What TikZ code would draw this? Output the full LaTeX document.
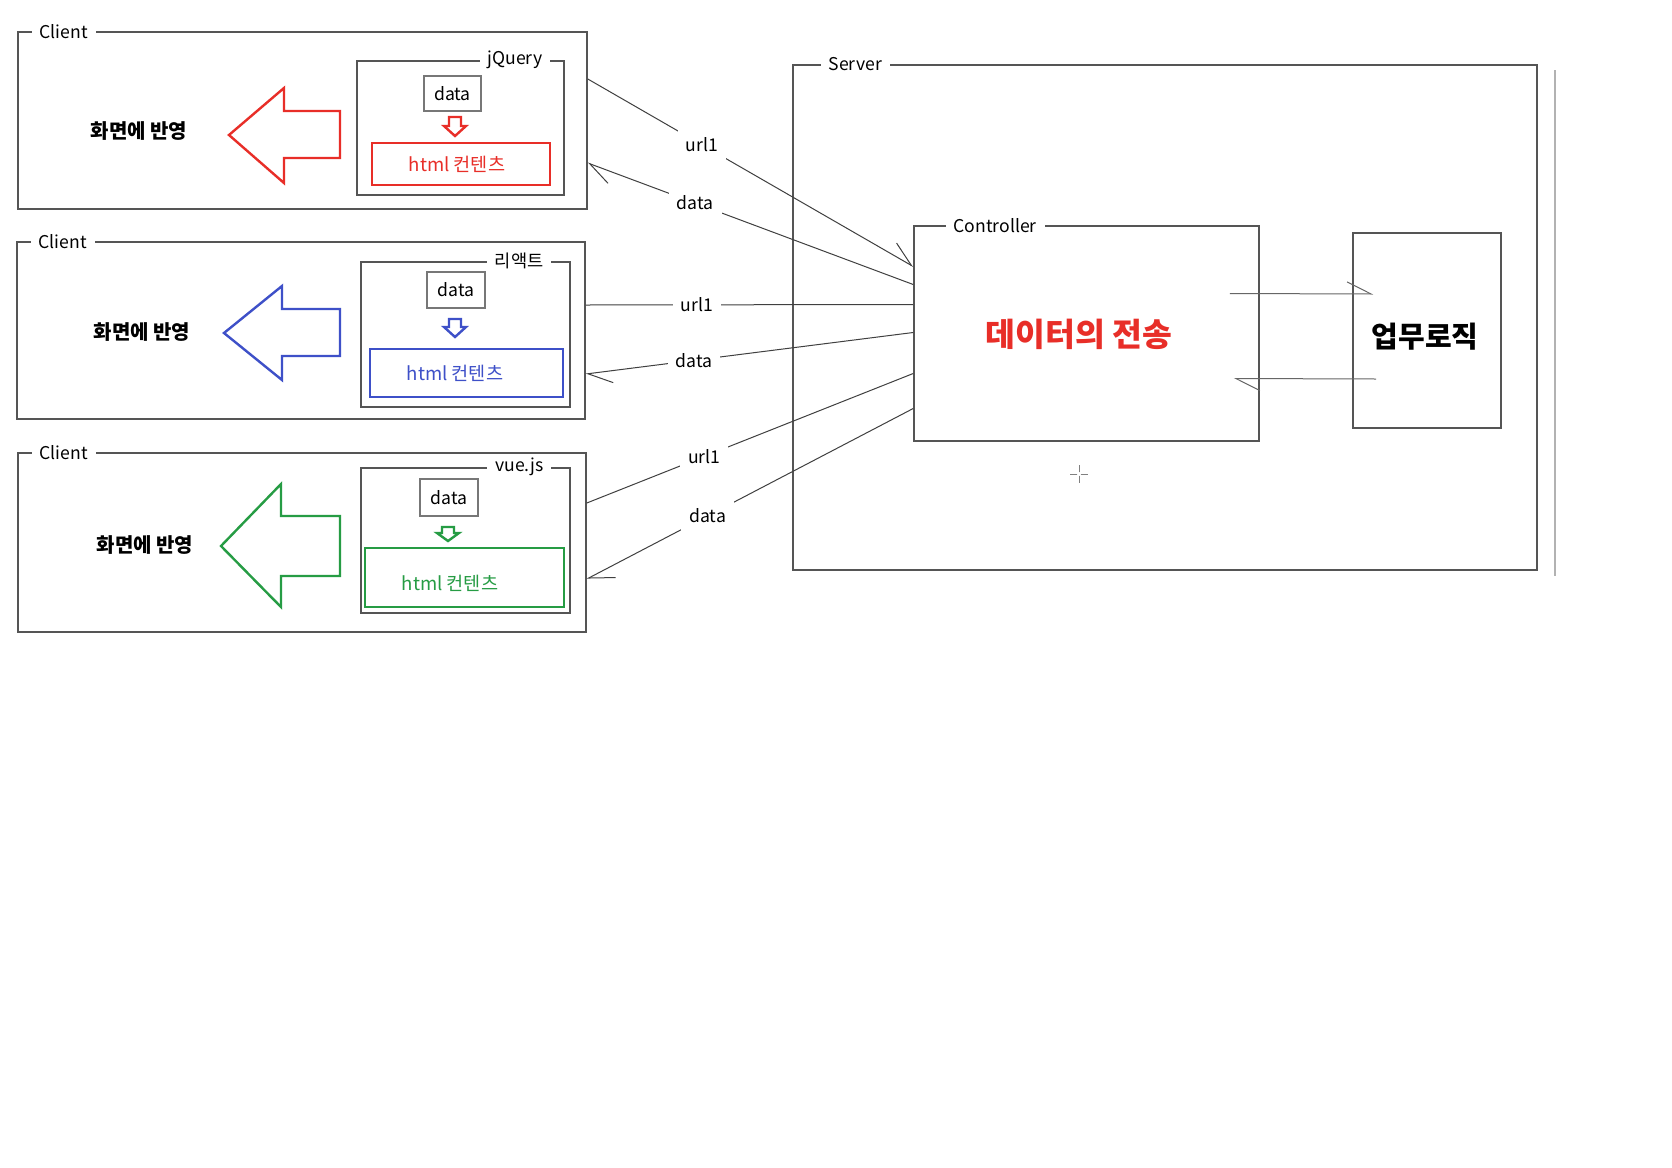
\documentclass[tikz,border=0pt]{standalone}
\usepackage{fontspec}
\setmainfont{Noto Sans CJK KR}
\usetikzlibrary{arrows.meta}
\usetikzlibrary{calc}
\usetikzlibrary{fit}
\definecolor{boxred}{RGB}{232,46,40}
\definecolor{boxblue}{RGB}{62,80,200}
\definecolor{boxgreen}{RGB}{38,156,68}
\definecolor{edge}{RGB}{85,85,85}

\begin{document}
\begin{tikzpicture}[x=0.5pt,y=-0.5pt,
    every node/.style={black},
    box/.style={draw=edge,line width=0.8pt,inner sep=0pt},
    databox/.style={draw=edge!80,line width=0.7pt,inner sep=0pt},
    htmlbox/.style={draw=#1,line width=1.2pt,inner sep=0pt},
    txt/.style={font=\fontsize{8.8}{10}\selectfont},
    tag/.style={fill=white,inner xsep=4pt,inner ysep=2pt,txt},
    lbl/.style={fill=white,inner sep=4pt,txt},
    link/.style={draw=black!75,line width=0.5pt},
    barb/.style={-{Straight Barb[harpoon,length=12pt,width=12pt]}}
]
    \fill[white] (0,0) rectangle (1672,1168);
    \useasboundingbox (0,0) rectangle (1672,1168);

    % client 1
    \node[box,fit={(18,32) (587,209)}] (c1) {};
    \node[tag,anchor=west] (c1tag) at ($(c1.north west)+(14,0)$) {Client};
    \node[box,fit={(357,61) (564,195)}] (jq) {};
    \node[tag,anchor=east] (jqtag) at ($(jq.north east)+(-14,0)$) {jQuery};
    \node[databox,fit={(424,76) (481,111)}] (d1) {};
    \node[txt] (d1t) at (d1.center) {data};
    \node[htmlbox=boxred,fit={(372,143) (550,185)}] (h1) {};
    \node[text=boxred,font=\fontsize{9.3}{10}\selectfont] (h1t) at (457,164) {html 컨텐츠};
    \draw[boxred,line width=1.2pt] (449,117) -- (461,117) -- (461,126) -- (466,126)
        -- (455,136) -- (444,126) -- (449,126) -- cycle;
    \draw[boxred,line width=1.2pt] (229,135) -- (284,88) -- (284,111) -- (340,111)
        -- (340,158) -- (284,158) -- (284,183) -- cycle;
    \node[font=\bfseries\fontsize{10}{11}\selectfont] (v1) at (139,131) {화면에 반영};

    % client 2
    \node[box,fit={(17,242) (585,419)}] (c2) {};
    \node[tag,anchor=west] (c2tag) at ($(c2.north west)+(14,0)$) {Client};
    \node[box,fit={(361,262) (570,407)}] (re) {};
    \node[tag,anchor=east] (retag) at ($(re.north east)+(-19,0)$) {리액트};
    \node[databox,fit={(427,272) (485,308)}] (d2) {};
    \node[txt] (d2t) at (d2.center) {data};
    \node[htmlbox=boxblue,fit={(370,349) (563,397)}] (h2) {};
    \node[text=boxblue,font=\fontsize{9.3}{10}\selectfont] (h2t) at (455,373) {html 컨텐츠};
    \draw[boxblue,line width=1.2pt] (449,319) -- (461,319) -- (461,327) -- (466,327)
        -- (455,337) -- (444,327) -- (449,327) -- cycle;
    \draw[boxblue,line width=1.2pt] (224,333) -- (282,286) -- (282,309) -- (340,309)
        -- (340,356) -- (282,356) -- (282,380) -- cycle;
    \node[font=\bfseries\fontsize{10}{11}\selectfont] (v2) at (142,332) {화면에 반영};

    % client 3
    \node[box,fit={(18,453) (586,632)}] (c3) {};
    \node[tag,anchor=west] (c3tag) at ($(c3.north west)+(14,0)$) {Client};
    \node[box,fit={(361,468) (570,613)}] (vu) {};
    \node[tag,anchor=east] (vutag) at ($(vu.north east)+(-19,0)$) {vue.js};
    \node[databox,fit={(420,479) (478,516)}] (d3) {};
    \node[txt] (d3t) at (d3.center) {data};
    \node[htmlbox=boxgreen,fit={(365,548) (564,607)}] (h3) {};
    \node[text=boxgreen,font=\fontsize{9.3}{10}\selectfont] (h3t) at (450,583) {html 컨텐츠};
    \draw[boxgreen,line width=1.2pt] (442,527) -- (454,527) -- (454,533) -- (459,533)
        -- (448,541) -- (437,533) -- (442,533) -- cycle;
    \draw[boxgreen,line width=1.2pt] (221,546) -- (281,484) -- (281,516) -- (340,516)
        -- (340,576) -- (281,576) -- (281,607) -- cycle;
    \node[font=\bfseries\fontsize{10}{11}\selectfont] (v3) at (145,545) {화면에 반영};

    % server
    \node[box,fit={(793,65) (1537,570)}] (srv) {};
    \node[tag,anchor=west] (srvtag) at ($(srv.north west)+(28,0)$) {Server};
    \draw[gray!60,line width=0.6pt] (1555,70) -- (1555,576);
    \node[box,fit={(914,226) (1259,441)}] (ctrl) {};
    \node[tag,anchor=west] (ctrltag) at ($(ctrl.north west)+(32,0)$) {Controller};
    \node[text=boxred,font=\bfseries\fontsize{16.2}{18}\selectfont] (send) at (1079,334) {데이터의 전송};
    \node[box,fit={(1353,233) (1501,428)}] (logic) {};
    \node[font=\bfseries\fontsize{14.5}{16}\selectfont] (logict) at (1425,337) {업무로직};
    \draw[link,barb,draw=black!60] ($(ctrl.east)+(-30,-40)$) -- ($(logic.west)+(21,-36.5)$);
    \draw[link,barb,draw=black!60] ($(logic.west)+(24,48.5)$) -- ($(ctrl.east)+(-26,45)$);

    % cursor
    \draw[gray,line width=0.5pt] (1070,474) -- (1088,474) (1079,465) -- (1079,483);
    \fill[white] (1079,474) circle (2);

    % requests and replies
    \draw[link,barb] ($(c1.east)+(0,-41.5)$) -- node[lbl,pos=0.35] {url1} ($(ctrl.west)+(0,-67)$);
    \draw[link,barb] ($(ctrl.west)+(0,-49)$) -- node[lbl,pos=0.67] {data} ($(c1.east)+(0,42.5)$);
    \draw[link] ($(c2.east)+(0,-25.5)$) -- node[lbl,pos=0.34] {url1} ($(ctrl.west)+(0,-29)$);
    \draw[link,barb] ($(ctrl.west)+(0,-1)$) -- node[lbl,pos=0.67] {data} ($(c2.east)+(0,43.5)$);
    \draw[link] ($(c3.east)+(0,-39.5)$) -- node[lbl,pos=0.36] {url1} ($(ctrl.west)+(0,40)$);
    \draw[link,barb] ($(ctrl.west)+(0,75)$) -- node[lbl,pos=0.63] {data} ($(c3.east)+(0,36.5)$);
\end{tikzpicture}
\end{document}
